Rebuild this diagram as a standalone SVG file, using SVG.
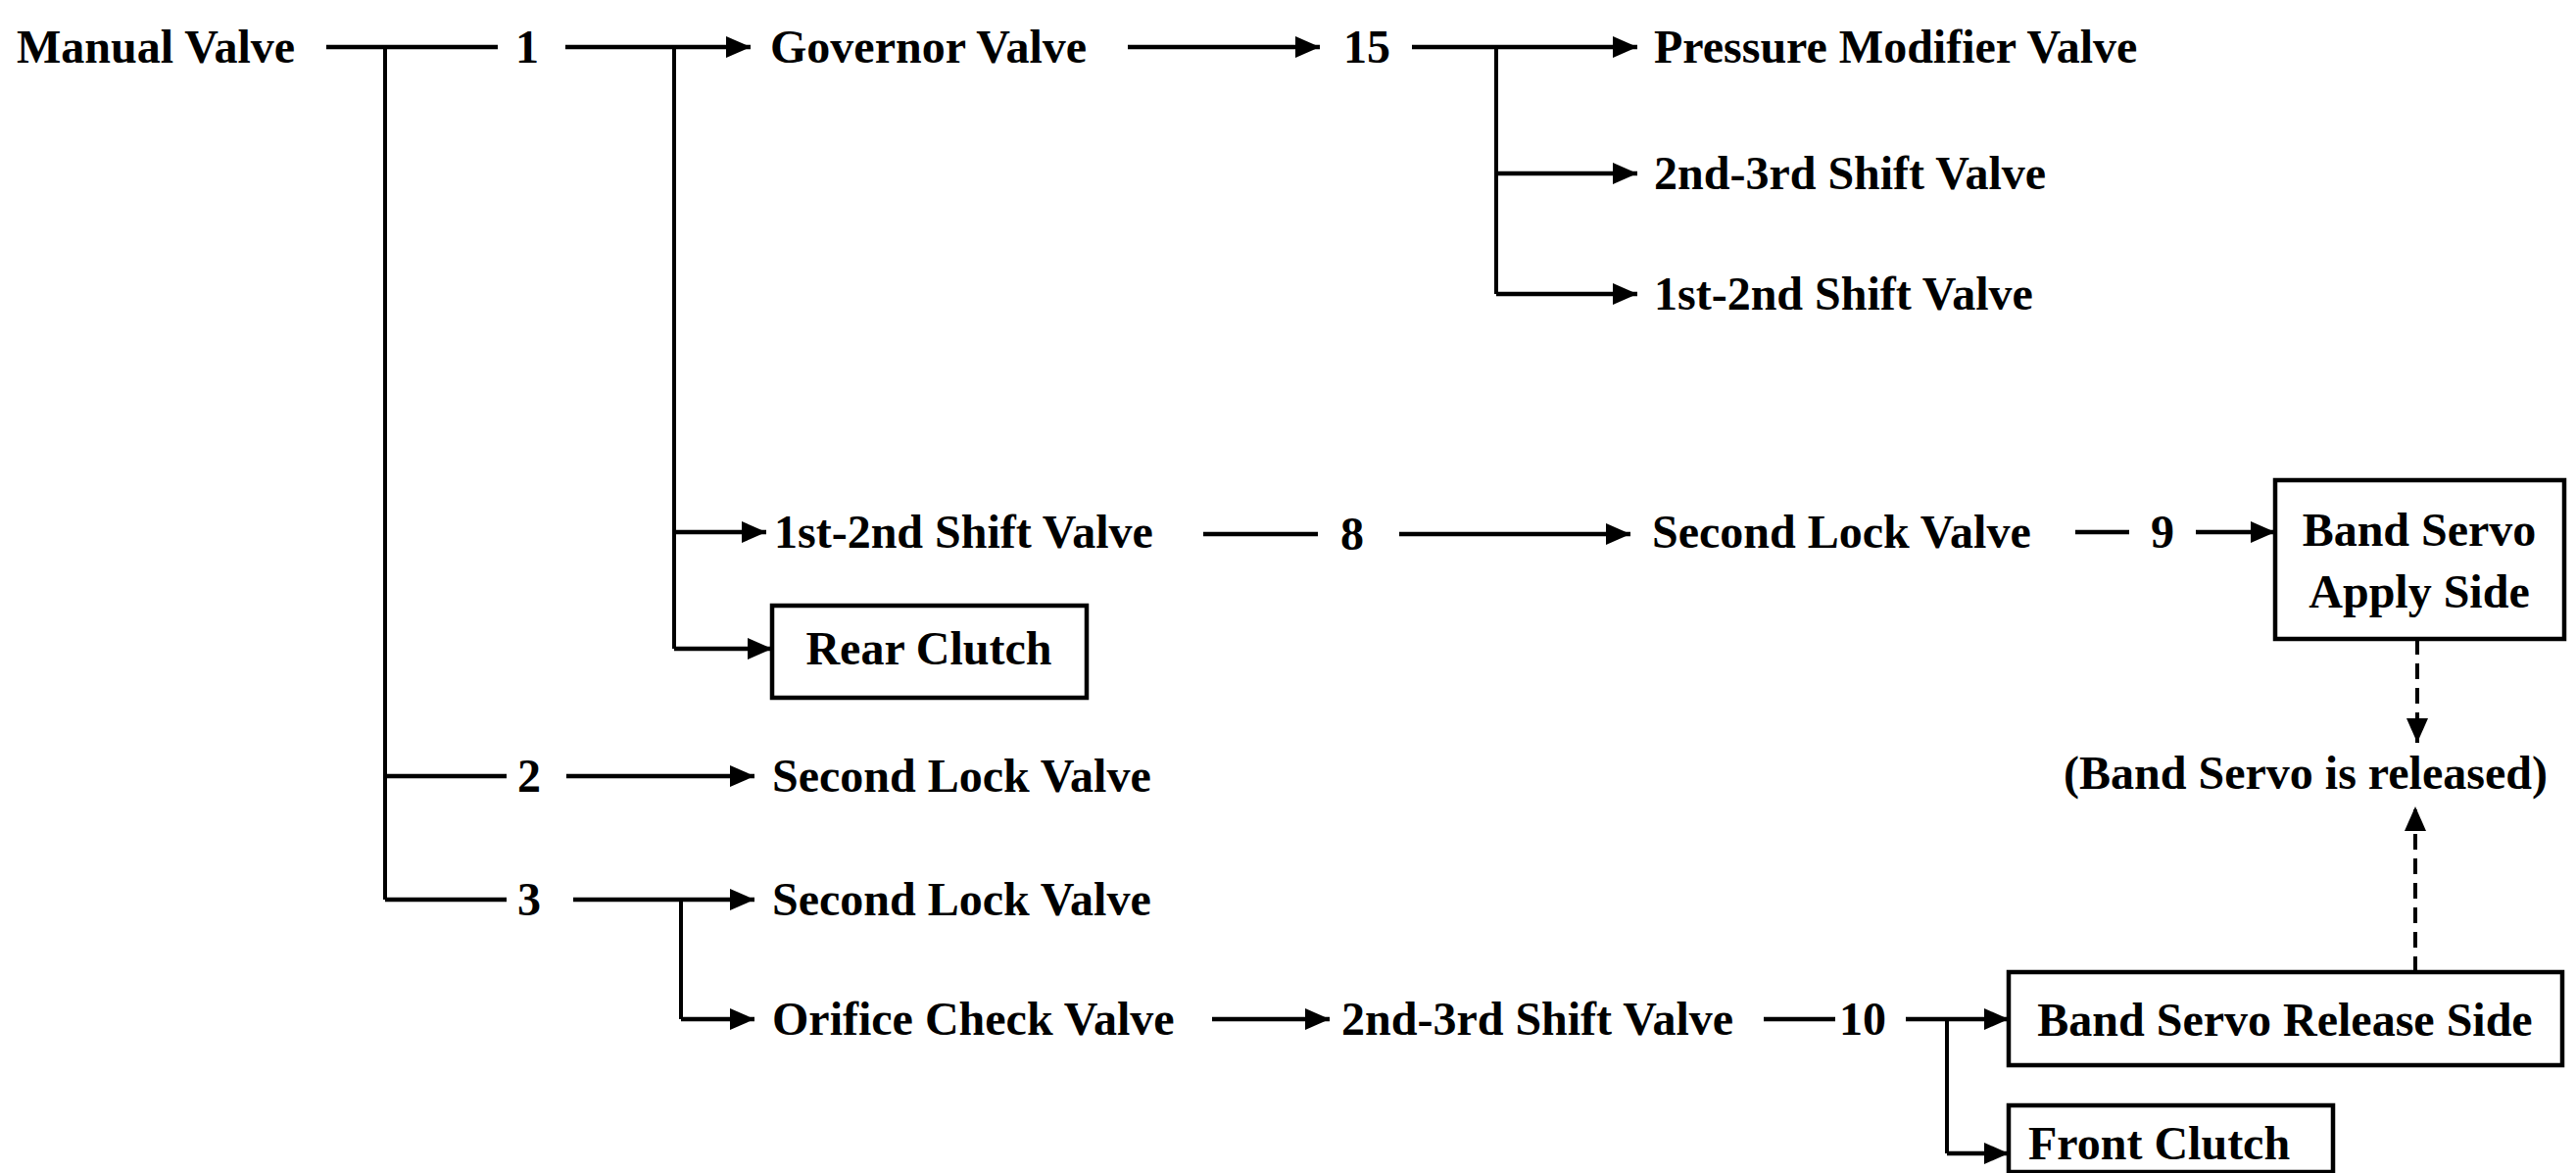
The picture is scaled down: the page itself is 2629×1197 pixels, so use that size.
<svg xmlns="http://www.w3.org/2000/svg" width="2629" height="1197" viewBox="0 0 2629 1197">
<style>
.t{font-family:"Liberation Serif","Times New Roman",serif;font-weight:bold;font-size:48px;fill:#000}
.m{text-anchor:middle}
.ln{stroke:#000;stroke-width:4.5;fill:none}
.v{stroke:#000;stroke-width:4;fill:none}
.ar{marker-end:url(#ah)}
.dash{stroke:#000;stroke-width:4;fill:none;stroke-dasharray:16 9}
.box{fill:none;stroke:#000;stroke-width:4.5}
</style>
<defs>
<marker id="ah" markerWidth="25" markerHeight="22" refX="25" refY="11" orient="auto" markerUnits="userSpaceOnUse">
<path d="M0,0 L25,11 L0,22 z" fill="#000"/>
</marker>
</defs>
<rect width="2629" height="1197" fill="#fff"/>
<g id="connectors">
<line class="ln" x1="333" y1="48" x2="508" y2="48"/>
<line class="ln ar" x1="577" y1="48" x2="766" y2="48"/>
<line class="v" x1="393" y1="48" x2="393" y2="918"/>
<line class="v" x1="688" y1="48" x2="688" y2="662"/>
<line class="ln ar" x1="1151" y1="48" x2="1347" y2="48"/>
<line class="ln ar" x1="1441" y1="48" x2="1671" y2="48"/>
<line class="v" x1="1527" y1="48" x2="1527" y2="300"/>
<line class="ln ar" x1="1527" y1="177" x2="1671" y2="177"/>
<line class="ln ar" x1="1527" y1="300" x2="1671" y2="300"/>
<line class="ln ar" x1="688" y1="543" x2="782" y2="543"/>
<line class="ln ar" x1="688" y1="662" x2="788" y2="662"/>
<line class="ln" x1="1228" y1="545" x2="1345" y2="545"/>
<line class="ln ar" x1="1428" y1="545" x2="1664" y2="545"/>
<line class="ln" x1="2118" y1="543" x2="2173" y2="543"/>
<line class="ln ar" x1="2241" y1="543" x2="2322" y2="543"/>
<line class="dash ar" x1="2467" y1="652" x2="2467" y2="758"/>
<line class="dash ar" x1="2465" y1="992" x2="2465" y2="823"/>
<line class="ln" x1="393" y1="792" x2="517" y2="792"/>
<line class="ln ar" x1="578" y1="792" x2="770" y2="792"/>
<line class="ln" x1="393" y1="918" x2="517" y2="918"/>
<line class="ln ar" x1="585" y1="918" x2="770" y2="918"/>
<line class="v" x1="695" y1="918" x2="695" y2="1040"/>
<line class="ln ar" x1="695" y1="1040" x2="770" y2="1040"/>
<line class="ln ar" x1="1237" y1="1040" x2="1357" y2="1040"/>
<line class="ln" x1="1800" y1="1040" x2="1873" y2="1040"/>
<line class="ln ar" x1="1945" y1="1040" x2="2050" y2="1040"/>
<line class="v" x1="1987" y1="1040" x2="1987" y2="1177"/>
<line class="ln ar" x1="1987" y1="1177" x2="2050" y2="1177"/>
</g>
<g id="manual-valve"><text class="t" x="17" y="64">Manual Valve</text></g>
<g id="n1"><text class="t m" x="538" y="64">1</text></g>
<g id="governor-valve"><text class="t" x="786" y="64">Governor Valve</text></g>
<g id="n15"><text class="t m" x="1395" y="64">15</text></g>
<g id="pressure-modifier-valve"><text class="t" x="1688" y="64">Pressure Modifier Valve</text></g>
<g id="shift23-top"><text class="t" x="1688" y="193">2nd-3rd Shift Valve</text></g>
<g id="shift12-top"><text class="t" x="1688" y="316">1st-2nd Shift Valve</text></g>
<g id="shift12-mid"><text class="t" x="790" y="559">1st-2nd Shift Valve</text></g>
<g id="n8"><text class="t m" x="1380" y="561">8</text></g>
<g id="second-lock-mid"><text class="t" x="1686" y="559">Second Lock Valve</text></g>
<g id="n9"><text class="t m" x="2207" y="559">9</text></g>
<g id="band-servo-apply">
<rect class="box" x="2322" y="490" width="295" height="162"/>
<text class="t m" x="2469" y="557">Band Servo</text>
<text class="t m" x="2469" y="620">Apply Side</text>
</g>
<g id="rear-clutch">
<rect class="box" x="788" y="618" width="321" height="94"/>
<text class="t m" x="948" y="678">Rear Clutch</text>
</g>
<g id="band-servo-released"><text class="t m" x="2353" y="805">(Band Servo is released)</text></g>
<g id="n2"><text class="t m" x="540" y="808">2</text></g>
<g id="second-lock-2"><text class="t" x="788" y="808">Second Lock Valve</text></g>
<g id="n3"><text class="t m" x="540" y="934">3</text></g>
<g id="second-lock-3"><text class="t" x="788" y="934">Second Lock Valve</text></g>
<g id="orifice-check-valve"><text class="t" x="788" y="1056">Orifice Check Valve</text></g>
<g id="shift23-bottom"><text class="t" x="1369" y="1056">2nd-3rd Shift Valve</text></g>
<g id="n10"><text class="t m" x="1901" y="1056">10</text></g>
<g id="band-servo-release-side">
<rect class="box" x="2050" y="992" width="565" height="95"/>
<text class="t m" x="2332" y="1057">Band Servo Release Side</text>
</g>
<g id="front-clutch">
<rect class="box" x="2050" y="1128" width="331" height="68"/>
<text class="t" x="2070" y="1183">Front Clutch</text>
</g>
</svg>
